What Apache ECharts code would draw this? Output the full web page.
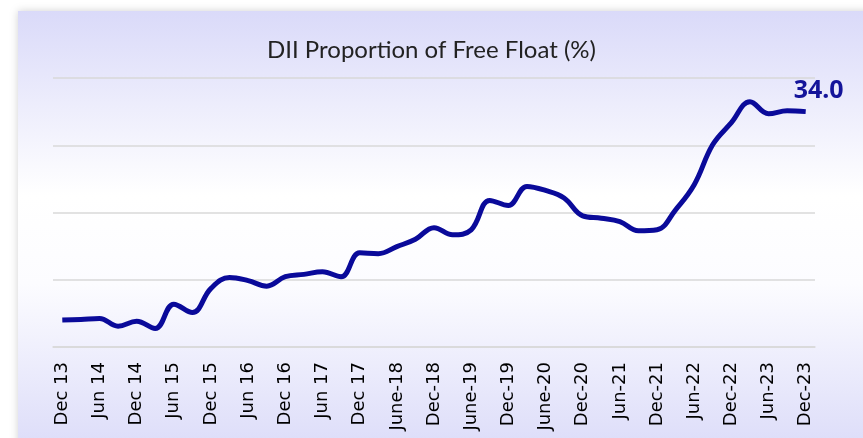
<!DOCTYPE html>
<html>
<head>
<meta charset="utf-8">
<script src="https://cdn.jsdelivr.net/npm/echarts@6/dist/echarts.min.js"></script>
<style>
  html, body { margin: 0; padding: 0; background: #fff; }
  #chart { width: 863px; height: 438px; }
</style>
</head>
<body>
<div id="chart"></div>
<script>
// quarterly points, Dec 13 .. Dec 23 (labels shown every other quarter)
const quarters = [
  'Dec 13', 'Mar 14', 'Jun 14', 'Sep 14', 'Dec 14', 'Mar 15', 'Jun 15', 'Sep 15',
  'Dec 15', 'Mar 16', 'Jun 16', 'Sep 16', 'Dec 16', 'Mar 17', 'Jun 17', 'Sep 17',
  'Dec 17', 'Mar-18', 'June-18', 'Sep-18', 'Dec-18', 'Mar-19', 'June-19', 'Sep-19',
  'Dec-19', 'Mar-20', 'June-20', 'Sep-20', 'Dec-20', 'Mar-21', 'Jun-21', 'Sep-21',
  'Dec-21', 'Mar-22', 'Jun-22', 'Sep-22', 'Dec-22', 'Mar-23', 'Jun-23', 'Sep-23',
  'Dec-23'
];

const diiShare = [
  21.6, 21.64, 21.7, 21.24, 21.53, 21.1, 22.55, 22.05,
  23.49, 24.14, 23.95, 23.62, 24.18, 24.32, 24.48, 24.18,
  25.6, 25.55, 25.97, 26.41, 27.1, 26.67, 26.97, 28.72,
  28.42, 29.55, 29.31, 28.86, 27.8, 27.66, 27.46, 26.91,
  26.97, 28.16, 29.65, 32.04, 33.34, 34.59, 33.87, 34.05,
  34.0
];

const yMin = 20;
const yMax = 36;
const yStep = 4;

const chart = echarts.init(document.getElementById('chart'));

chart.setOption({
  animation: false,
  graphic: [{
    type: 'rect',
    z: -10,
    shape: { x: 18, y: 11, width: 870, height: 440 },
    style: {
      fill: new echarts.graphic.LinearGradient(0, 0, 0, 1, [
        { offset: 0, color: '#dadaf9' },
        { offset: 0.42, color: '#ffffff' },
        { offset: 0.62, color: '#fcfcff' },
        { offset: 1, color: '#dcdcf9' }
      ]),
      shadowBlur: 8,
      shadowColor: 'rgba(0,0,0,0.18)'
    }
  }],
  title: {
    text: 'DII Proportion of Free Float (%)',
    left: 'center',
    top: 33,
    textStyle: { fontFamily: 'Lato', fontSize: 24, fontWeight: 'normal', color: '#222' }
  },
  grid: { left: 53, right: 48, top: 78, bottom: 91 },
  xAxis: {
    type: 'category',
    data: quarters,
    boundaryGap: true,
    axisLine: { lineStyle: { color: '#d9d9d9', width: 1.5 } },
    axisTick: { show: false },
    axisLabel: {
      interval: 1,
      rotate: 90,
      margin: 15,
      fontFamily: 'DejaVu Sans',
      fontSize: 18,
      color: '#000'
    }
  },
  yAxis: {
    type: 'value',
    min: yMin,
    max: yMax,
    interval: yStep,
    axisLabel: { show: false },
    axisLine: { show: false },
    axisTick: { show: false },
    splitLine: { lineStyle: { color: '#d9d9d9', width: 1.5 } }
  },
  series: [{
    type: 'line',
    smooth: 0.4,
    symbol: 'none',
    lineStyle: { color: '#0a0a9a', width: 5 },
    data: diiShare,
    endLabel: {
      show: true,
      offset: [-20, -21],
      formatter: p => p.value.toFixed(1),
      fontFamily: 'Noto Sans',
      fontWeight: 'bold',
      fontSize: 25,
      color: '#14149a'
    }
  }]
});
</script>
</body>
</html>
